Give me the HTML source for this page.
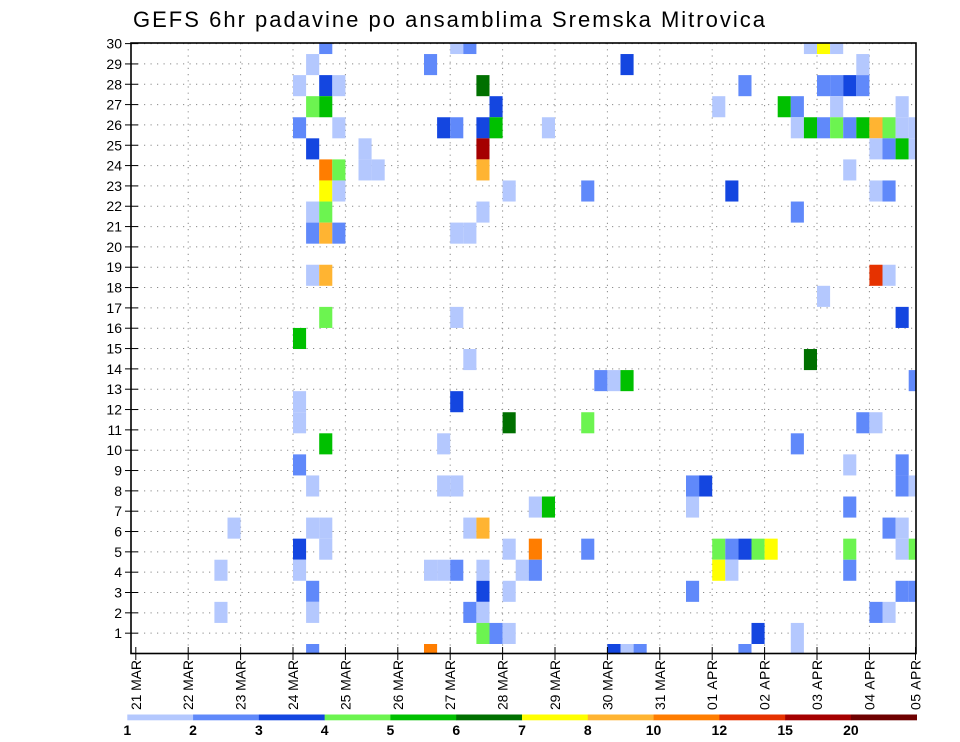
<!DOCTYPE html>
<html><head><meta charset="utf-8"><style>
html,body{margin:0;padding:0;background:#fff;}
svg{display:block;font-family:"Liberation Sans","DejaVu Sans",sans-serif;}
</style></head><body>
<svg id="chart" width="960" height="742" viewBox="0 0 960 742" xmlns="http://www.w3.org/2000/svg">
<defs><clipPath id="plotclip"><rect x="131" y="43" width="785" height="610.5"/></clipPath></defs>
<text x="133" y="27" font-size="22" textLength="632" lengthAdjust="spacing" fill="#000">GEFS 6hr padavine po ansamblima Sremska Mitrovica</text>
<g id="grid"></g>
<g id="cells" clip-path="url(#plotclip)"></g>
<rect x="131" y="43" width="785" height="610.5" fill="none" stroke="#000" stroke-width="1.6"/>
<g id="axes"></g>
<g id="colorbar"></g>
</svg>
<script>
// data: 6-hour column index, ensemble member index, precip class (1..12)
const cols = [14,24,25,13,22,12,14,15,26,13,14,27,12,15,23,24,26,27,13,17,26,14,15,17,18,26,14,15,28,13,14,26,13,14,15,24,25,13,14,14,24,12,
51,52,53,37,55,46,52,53,54,55,44,49,50,53,58,31,50,51,52,53,54,55,56,57,58,59,56,57,58,59,54,34,45,56,57,50,56,57,52,58,
25,12,12,24,28,14,23,12,13,23,24,7,13,14,25,26,12,14,28,6,12,22,23,24,26,29,13,26,28,6,13,25,26,26,27,28,13,22,
51,35,36,37,59,34,55,56,50,54,58,42,43,58,59,30,31,42,54,57,58,30,34,44,45,46,47,48,54,58,59,30,44,45,54,42,58,59,56,57,47,50,36,37,38,46,50];
const members = [29,29,29,28,28,27,27,27,27,26,26,26,25,25,25,25,25,25,24,24,24,23,23,23,23,23,22,22,22,21,21,21,20,20,20,20,20,18,18,16,16,15,
29,29,29,28,28,27,27,27,27,27,26,26,26,26,26,25,25,25,25,25,25,25,25,25,25,25,24,24,24,24,23,22,22,22,22,21,18,18,17,16,
14,12,11,12,11,10,10,9,8,8,8,6,6,6,6,6,5,5,5,4,4,4,4,4,4,4,3,3,3,2,2,2,2,1,1,1,0,0,
14,13,13,13,13,11,11,11,10,9,9,8,8,8,8,7,7,7,7,6,6,5,5,5,5,5,5,5,5,5,5,4,4,4,4,3,3,3,2,2,1,1,0,0,0,0,0];
const levels = [2,1,2,1,2,1,3,1,6,4,5,3,2,1,3,2,3,5,3,1,11,9,4,1,1,8,7,1,1,1,4,1,2,8,2,1,1,1,8,4,1,5,
1,7,1,3,1,2,2,2,3,2,1,5,2,1,1,1,1,5,2,4,2,5,8,4,1,1,1,2,5,1,1,2,3,1,2,2,10,1,1,3,
1,1,1,3,6,5,1,2,1,1,1,1,1,1,1,8,3,1,1,1,1,1,1,2,1,1,2,3,1,1,1,2,1,4,2,1,2,9,
6,2,1,5,2,4,2,1,2,1,2,2,3,2,1,1,5,1,2,2,1,9,2,4,2,3,4,7,4,1,4,2,7,1,2,2,2,2,2,1,3,1,3,1,2,2,1];
const classColors = ["#ffffff","#b4c8fe","#6089fa","#1446e0","#6cf450","#00c000","#007000","#ffff00","#ffb432","#ff7d00","#e63200","#a50000","#6e0000"];
const classLabels = ["1","2","3","4","5","6","7","8","10","12","15","20"];
const dayLabels = ["21 MAR","22 MAR","23 MAR","24 MAR","25 MAR","26 MAR","27 MAR","28 MAR","29 MAR","30 MAR","31 MAR","01 APR","02 APR","03 APR","04 APR","05 APR"];
const rowLabels = [1,2,3,4,5,6,7,8,9,10,11,12,13,14,15,16,17,18,19,20,21,22,23,24,25,26,27,28,29,30];

const NS="http://www.w3.org/2000/svg";
const X0=135.8, DAY=52.4, COLW=DAY/4;
function xCol(c){return X0+c*COLW;}
function xDay(d){return X0+d*DAY;}
function yRow(r){return 653.5-r*20.33;}
function yMemTop(j){return 665.07-21.07*(j+1);}
const MEMH=21.07;
function mk(tag,attrs,parent){const e=document.createElementNS(NS,tag);for(const k in attrs)e.setAttribute(k,attrs[k]);parent.appendChild(e);return e;}

const grid=document.getElementById('grid');
rowLabels.forEach(r=>{
  const l=mk('line',{x1:131,x2:916,y1:yRow(r),y2:yRow(r),stroke:'#8a8a8a','stroke-width':1,'stroke-dasharray':'1.2,5.3'},grid);
  
  
});
for(let d=1;d<15;d++){
  const l=mk('line',{x1:xDay(d),x2:xDay(d),y1:43,y2:653,stroke:'#8a8a8a','stroke-width':1,'stroke-dasharray':'1.2,5'},grid);
  
  
}

const cellsG=document.getElementById('cells');
for(let i=0;i<cols.length;i++){
  const r=mk('rect',{x:xCol(cols[i]),y:yMemTop(members[i]),width:COLW,height:MEMH,fill:classColors[levels[i]]},cellsG);
  
  
}

const axes=document.getElementById('axes');
rowLabels.forEach(r=>{
  const t=mk('line',{x1:125,x2:138,y1:yRow(r),y2:yRow(r),stroke:'#000','stroke-width':1},axes);
  
  
  const tx=mk('text',{x:122,y:yRow(r)+5,'font-size':14,'text-anchor':'end',fill:'#000'},axes);
  tx.textContent=r;
  
  
});
dayLabels.forEach((lab,d)=>{
  const x=Math.min(xDay(d),915.5);
  const t=mk('line',{x1:x,x2:x,y1:647,y2:660,stroke:'#000','stroke-width':1},axes);
  
  
  const bx=x+5, by=660;
  const tx=mk('text',{x:bx,y:by,'font-size':14,'text-anchor':'end',transform:`rotate(-90 ${bx} ${by})`,textLength:50,lengthAdjust:'spacing',fill:'#000'},axes);
  tx.textContent=lab;
  
  
});

const cb=document.getElementById('colorbar');
const CB0=127.3, CBW=(916.7-127.3)/12;
for(let k=0;k<12;k++){
  const r=mk('rect',{x:CB0+k*CBW,y:714.5,width:CBW+0.3,height:5.8,fill:classColors[k+1]},cb);
  
  
  const t=mk('text',{x:CB0+k*CBW,y:735,'font-size':14,'text-anchor':'middle','font-weight':'bold',fill:'#000'},cb);
  t.textContent=classLabels[k];
  
  
}
</script>
</body></html>
